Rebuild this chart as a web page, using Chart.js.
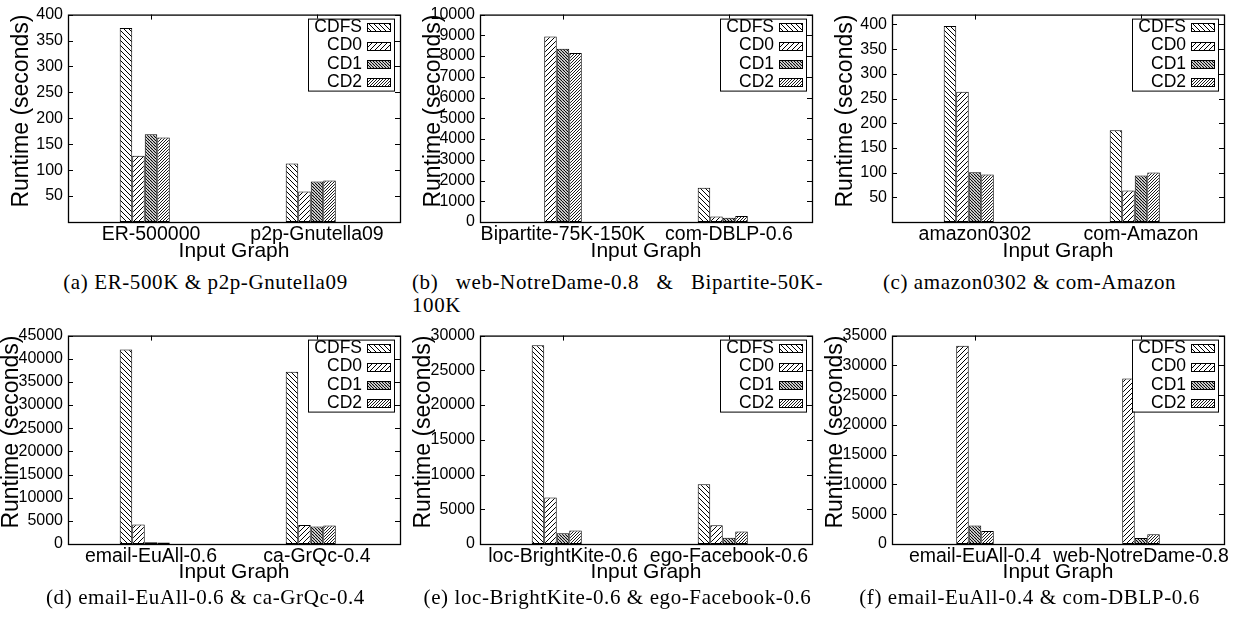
<!DOCTYPE html>
<html>
<head>
<meta charset="utf-8">
<script src="https://cdn.jsdelivr.net/npm/chart.js@4.4.0/dist/chart.umd.min.js"></script>
<style>
  html, body { margin: 0; padding: 0; background: #fff; }
  #page { position: relative; width: 1237px; height: 619px; overflow: hidden; }
  #page canvas { position: absolute; }
  .cap {
    position: absolute; width: 411px;
    font: 21px "Liberation Serif", "Times New Roman", serif;
    letter-spacing: 0.6px; line-height: 23px;
    text-align: center; color: #000;
  }
</style>
</head>
<body>
<div id="page">
  <canvas id="ca" width="412" height="268" style="left:0;top:0"></canvas>
  <canvas id="cb" width="412" height="268" style="left:412px;top:0"></canvas>
  <canvas id="cc" width="412" height="268" style="left:824px;top:0"></canvas>
  <canvas id="cd" width="412" height="268" style="left:0;top:321px"></canvas>
  <canvas id="ce" width="412" height="268" style="left:412px;top:321px"></canvas>
  <canvas id="cf" width="412" height="268" style="left:824px;top:321px"></canvas>

  <div class="cap" style="left:0;top:271px">(a) ER-500K &amp; p2p-Gnutella09</div>
  <div class="cap" style="left:412px;top:271px;text-align:justify">(b) web-NotreDame-0.8 &amp; Bipartite-50K-&#8203;100K</div>
  <div class="cap" style="left:824px;top:271px">(c) amazon0302 &amp; com-Amazon</div>
  <div class="cap" style="left:0;top:586px">(d) email-EuAll-0.6 &amp; ca-GrQc-0.4</div>
  <div class="cap" style="left:412px;top:586px">(e) loc-BrightKite-0.6 &amp; ego-Facebook-0.6</div>
  <div class="cap" style="left:824px;top:586px">(f) email-EuAll-0.4 &amp; com-DBLP-0.6</div>
</div>
<script>
const seriesNames = ['CDFS', 'CD0', 'CD1', 'CD2'];

// (a) ER-500K & p2p-Gnutella09
const graphsA = ['ER-500000', 'p2p-Gnutella09'];
const cdfsA = [374, 113];
const cd0A = [128, 59];
const cd1A = [169, 78];
const cd2A = [163, 80];
const yTicksA = [50, 100, 150, 200, 250, 300, 350, 400];

// (b) web-NotreDame-0.8 & Bipartite-50K-100K (CDFS missing for the first graph)
const graphsB = ['Bipartite-75K-150K', 'com-DBLP-0.6'];
const cdfsB = [null, 1650];
const cd0B = [8950, 260];
const cd1B = [8350, 200];
const cd2B = [8150, 290];
const yTicksB = [0, 1000, 2000, 3000, 4000, 5000, 6000, 7000, 8000, 9000, 10000];

// (c) amazon0302 & com-Amazon
const graphsC = ['amazon0302', 'com-Amazon'];
const cdfsC = [397, 186];
const cd0C = [264, 64];
const cd1C = [101, 94];
const cd2C = [96, 100];
const yTicksC = [50, 100, 150, 200, 250, 300, 350, 400];

// (d) email-EuAll-0.6 & ca-GrQc-0.4
const graphsD = ['email-EuAll-0.6', 'ca-GrQc-0.4'];
const cdfsD = [42000, 37200];
const cd0D = [4200, 4100];
const cd1D = [400, 3800];
const cd2D = [350, 4000];
const yTicksD = [0, 5000, 10000, 15000, 20000, 25000, 30000, 35000, 40000, 45000];

// (e) loc-BrightKite-0.6 & ego-Facebook-0.6
const graphsE = ['loc-BrightKite-0.6', 'ego-Facebook-0.6'];
const cdfsE = [28600, 8600];
const cd0E = [6700, 2700];
const cd1E = [1550, 900];
const cd2E = [1950, 1800];
const yTicksE = [0, 5000, 10000, 15000, 20000, 25000, 30000];

// (f) email-EuAll-0.4 & com-DBLP-0.6 (no CDFS bars)
const graphsF = ['email-EuAll-0.4', 'web-NotreDame-0.8'];
const cdfsF = [null, null];
const cd0F = [33300, 27800];
const cd1F = [3100, 1000];
const cd2F = [2200, 1650];
const yTicksF = [0, 5000, 10000, 15000, 20000, 25000, 30000, 35000];

// empty fifth slot: gnuplot's cluster gap
const gapSlot = [null, null];

const sans = '"Liberation Sans", Arial, Helvetica, sans-serif';

function hatch(ctx, dir, step, lw) {
  const c = document.createElement('canvas');
  c.width = step; c.height = step;
  const g = c.getContext('2d');
  g.fillStyle = '#fff';
  g.fillRect(0, 0, step, step);
  g.strokeStyle = '#000';
  g.lineWidth = lw;
  g.beginPath();
  for (let k = -1; k <= 1; k++) {
    if (dir === 'back') { g.moveTo(k * step, 0); g.lineTo(k * step + step, step); }
    else { g.moveTo(k * step, step); g.lineTo(k * step + step, 0); }
  }
  g.stroke();
  return ctx.createPattern(c, 'repeat');
}

const framePlugin = {
  id: 'frame',
  afterDraw(chart) {
    const { ctx, chartArea: a, scales } = chart;
    ctx.save();
    ctx.strokeStyle = '#000';
    ctx.lineWidth = 1.3;
    ctx.strokeRect(a.left + 0.5, a.top + 0.5, a.right - a.left, a.bottom - a.top);
    ctx.lineWidth = 1;
    ctx.beginPath();
    scales.y.ticks.forEach(t => {
      const y = Math.round(scales.y.getPixelForValue(t.value)) + 0.5;
      ctx.moveTo(a.left, y); ctx.lineTo(a.left + 5, y);
      ctx.moveTo(a.right - 5, y); ctx.lineTo(a.right, y);
    });
    scales.x.ticks.forEach((t, i) => {
      const x = Math.round(scales.x.getPixelForTick(i)) + 0.5;
      ctx.moveTo(x, a.top); ctx.lineTo(x, a.top + 5);
    });
    ctx.stroke();
    ctx.restore();
  }
};

// gnuplot-style key: label right-aligned, swatch to its right, boxed
const keyPlugin = {
  id: 'key',
  afterDraw(chart) {
    const { ctx, chartArea: a } = chart;
    const sets = chart.data.datasets.filter(d => d.inKey);
    const boxR = a.right - 6, boxT = a.top + 4, boxW = 86, boxH = 72;
    ctx.save();
    ctx.fillStyle = '#fff';
    ctx.fillRect(boxR - boxW, boxT, boxW, boxH);
    ctx.strokeStyle = '#000';
    ctx.lineWidth = 1;
    ctx.strokeRect(boxR - boxW + 0.5, boxT + 0.5, boxW, boxH);
    ctx.font = '17.5px ' + sans;
    ctx.textAlign = 'right';
    ctx.textBaseline = 'middle';
    sets.forEach((d, i) => {
      const y = boxT + 8.7 + i * 18.33;
      ctx.fillStyle = '#000';
      ctx.fillText(d.label, a.right - 38, y);
      const sy = Math.round(y - 4);
      ctx.fillStyle = d.backgroundColor;
      ctx.fillRect(a.right - 33, sy, 23, 8);
      ctx.strokeRect(a.right - 33 + 0.5, sy + 0.5, 23, 8);
    });
    ctx.restore();
  }
};

function drawPanel(id, graphs, series, yTicks, yMax, row) {
  const canvas = document.getElementById(id);
  const ctx = canvas.getContext('2d');
  const fills = [
    hatch(ctx, 'back', 5, 1),
    hatch(ctx, 'fwd', 5, 1),
    hatch(ctx, 'back', 3, 1.1),
    hatch(ctx, 'fwd', 3, 0.9)
  ];
  const datasets = series.map((vals, i) => ({
    label: seriesNames[i],
    data: vals,
    inKey: true,
    backgroundColor: fills[i],
    borderColor: '#000',
    borderWidth: 1,
    borderSkipped: false,
    barPercentage: 1,
    categoryPercentage: 0.377
  }));
  datasets.push({ label: 'gap', data: gapSlot, barPercentage: 1, categoryPercentage: 0.377 });

  new Chart(canvas, {
    type: 'bar',
    data: { labels: graphs, datasets },
    options: {
      responsive: false,
      animation: false,
      devicePixelRatio: 1,
      layout: { padding: { top: 14, right: 12, left: 0, bottom: 0 } },
      plugins: { legend: { display: false }, tooltip: { enabled: false } },
      scales: {
        x: {
          grid: { display: false, drawTicks: false },
          border: { display: false },
          ticks: {
            color: '#000', font: { family: sans, size: 19.5 }, padding: 1,
            maxRotation: 0, minRotation: 0, autoSkip: false
          },
          title: {
            display: true, text: 'Input Graph', color: '#000',
            font: { family: sans, size: 21, lineHeight: 1.2 },
            padding: { top: 0, bottom: 4.5 }
          },
          afterFit: s => { s.height = row === 1 ? 46 : 45; }
        },
        y: {
          min: 0, max: yMax,
          grid: { display: false, drawTicks: false },
          border: { display: false },
          afterBuildTicks: s => { s.ticks = yTicks.map(v => ({ value: v })); },
          ticks: {
            color: '#000', font: { family: sans, size: 16 }, padding: 5,
            autoSkip: false, callback: v => String(v)
          },
          title: {
            display: true, text: 'Runtime (seconds)', color: '#000', align: 'end',
            font: { family: sans, size: 23, lineHeight: 1 },
            padding: { top: row === 1 ? 10.3 : 0.3, bottom: 0 }
          },
          afterFit: s => { s.width = 68; }
        }
      }
    },
    plugins: [framePlugin, keyPlugin]
  });
}

drawPanel('ca', graphsA, [cdfsA, cd0A, cd1A, cd2A], yTicksA, 400, 1);
drawPanel('cb', graphsB, [cdfsB, cd0B, cd1B, cd2B], yTicksB, 10000, 1);
drawPanel('cc', graphsC, [cdfsC, cd0C, cd1C, cd2C], yTicksC, 420, 1);
drawPanel('cd', graphsD, [cdfsD, cd0D, cd1D, cd2D], yTicksD, 45000, 2);
drawPanel('ce', graphsE, [cdfsE, cd0E, cd1E, cd2E], yTicksE, 30000, 2);
drawPanel('cf', graphsF, [cdfsF, cd0F, cd1F, cd2F], yTicksF, 35000, 2);
</script>
</body>
</html>
